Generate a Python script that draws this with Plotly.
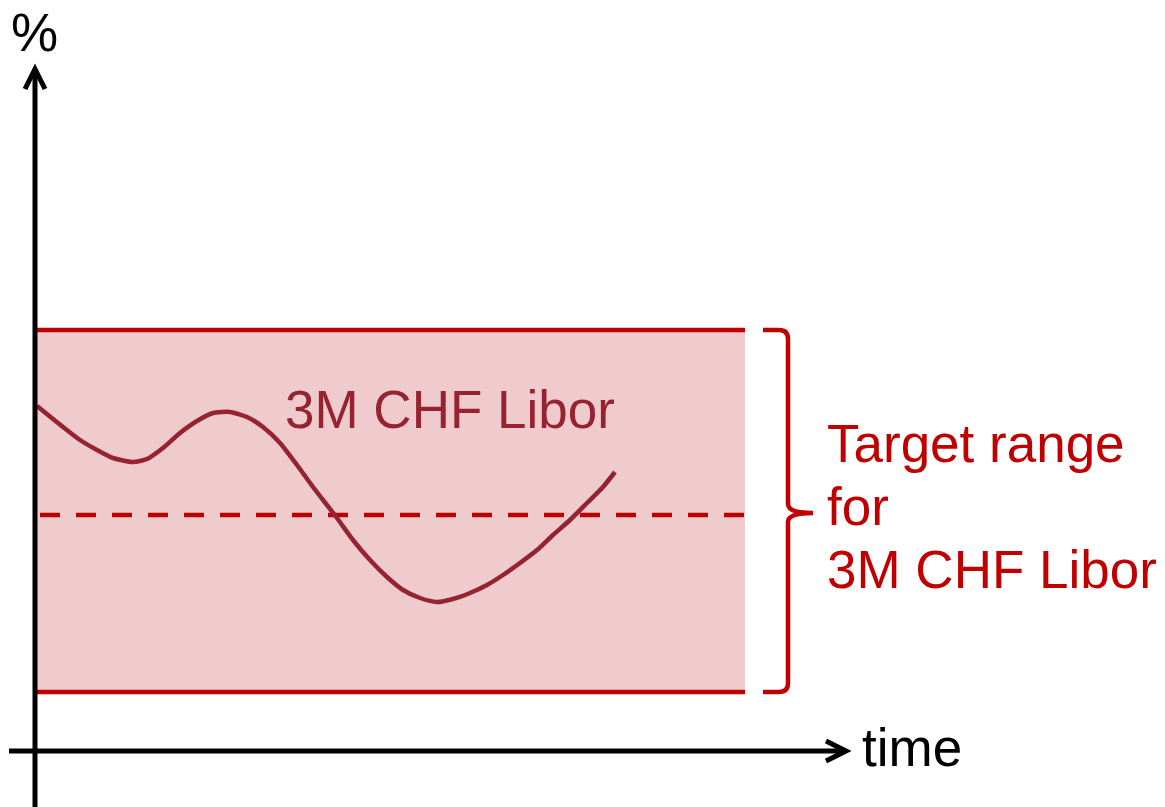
import plotly.graph_objects as go

# ---- data (time units, % units) ----
curve_time = [0.02, 0.28, 0.45, 0.62, 0.78, 0.98, 1.12, 1.28, 1.45, 1.62, 1.78, 1.95,
              2.12, 2.28, 2.45, 2.62, 2.78, 3.02, 3.18, 3.35, 3.52, 3.68, 3.85, 4.02,
              4.18, 4.35, 4.52, 4.68, 4.85, 5.02, 5.18, 5.35, 5.52, 5.68, 5.80]
curve_rate = [3.45, 3.24, 3.11, 3.01, 2.93, 2.89, 2.92, 3.03, 3.18, 3.30, 3.38, 3.39,
              3.34, 3.24, 3.08, 2.86, 2.64, 2.33, 2.11, 1.91, 1.74, 1.61, 1.53, 1.49,
              1.52, 1.58, 1.66, 1.76, 1.88, 2.01, 2.16, 2.31, 2.48, 2.64, 2.79]
band_low = 0.59
band_high = 4.21
band_mid = 2.36
band_start = 0.0
band_end = 7.10
curve_label = "3M CHF Libor"
target_lines = ["Target range", "for", "3M CHF Libor"]
y_label = "%"
x_label = "time"

# ---- styles ----
FONT = "Liberation Sans, Arial, sans-serif"
RED = "#c00000"
DARK = "#962330"
FILL = "#f0cbce"
FS = 53

x_range = [-0.35, 11.30]
y_range = [-0.56, 7.51]

fig = go.Figure()

# band fill
fig.add_trace(go.Scatter(
    x=[band_start, band_end, band_end, band_start, band_start],
    y=[band_low, band_low, band_high, band_high, band_low],
    fill="toself", fillcolor=FILL, line=dict(width=0), mode="lines",
    hoverinfo="skip", showlegend=False))
# band borders
for yv in (band_low, band_high):
    fig.add_trace(go.Scatter(x=[band_start, band_end], y=[yv, yv], mode="lines",
                             line=dict(color=RED, width=4.5), showlegend=False, hoverinfo="skip"))
# dashed mid
fig.add_trace(go.Scatter(x=[band_start + 0.05, band_end], y=[band_mid, band_mid], mode="lines",
                         line=dict(color=RED, width=4.5, dash="20px,16px"), showlegend=False, hoverinfo="skip"))
# curve
fig.add_trace(go.Scatter(x=curve_time, y=curve_rate, mode="lines",
                         line=dict(color=DARK, width=4.5, shape="spline", smoothing=0.6),
                         showlegend=False, hoverinfo="skip"))

shapes = []
AX = dict(color="black", width=5)
# y axis
shapes.append(dict(type="line", xref="x", yref="y", x0=0, x1=0, y0=y_range[0], y1=6.82, line=AX))
# x axis
shapes.append(dict(type="line", xref="x", yref="y", x0=-0.26, x1=8.11, y0=0, y1=0, line=AX))
# arrow chevrons
shapes.append(dict(type="path", xref="x", yref="y",
                   path="M -0.10,6.62 L 0,6.82 L 0.10,6.62", line=dict(color="black", width=5)))
shapes.append(dict(type="path", xref="x", yref="y",
                   path="M 7.91,0.10 L 8.11,0 L 7.91,-0.10", line=dict(color="black", width=5)))

# brace
bx0 = 7.28
bx1 = 7.53
btip = 7.78
r = 0.09
mid = (band_low + band_high) / 2 - 0.02
brace = (f"M {bx0},{band_high} L {bx1 - r},{band_high} Q {bx1},{band_high} {bx1},{band_high - r} "
         f"L {bx1},{mid + r} Q {bx1},{mid} {btip},{mid} "
         f"Q {bx1},{mid} {bx1},{mid - r} "
         f"L {bx1},{band_low + r} Q {bx1},{band_low} {bx1 - r},{band_low} L {bx0},{band_low}")
shapes.append(dict(type="path", xref="x", yref="y", path=brace, line=dict(color=RED, width=4.5)))

annotations = []
annotations.append(dict(x=2.48, y=3.42, xref="x", yref="y", text=curve_label, showarrow=False,
                        xanchor="left", yanchor="middle", font=dict(family=FONT, size=FS, color=DARK)))
for i, t in enumerate(target_lines):
    annotations.append(dict(x=7.90, y=3.08 - 0.63 * i, xref="x", yref="y", text=t, showarrow=False,
                            xanchor="left", yanchor="middle", font=dict(family=FONT, size=FS, color=RED)))
annotations.append(dict(x=-0.01, y=7.19, xref="x", yref="y", text=y_label, showarrow=False,
                        xanchor="center", yanchor="middle", font=dict(family=FONT, size=FS, color="black")))
annotations.append(dict(x=8.25, y=0.04, xref="x", yref="y", text=x_label, showarrow=False,
                        xanchor="left", yanchor="middle", font=dict(family=FONT, size=FS, color="black")))

fig.update_layout(
    width=1165, height=807,
    margin=dict(l=0, r=0, t=0, b=0),
    paper_bgcolor="white", plot_bgcolor="white",
    xaxis=dict(range=x_range, visible=False, fixedrange=True),
    yaxis=dict(range=y_range, visible=False, fixedrange=True),
    shapes=shapes, annotations=annotations, showlegend=False,
)

fig.write_html("out.html", config={"displayModeBar": False},
               post_script="document.body.style.margin='0';document.body.style.overflow='hidden';")
